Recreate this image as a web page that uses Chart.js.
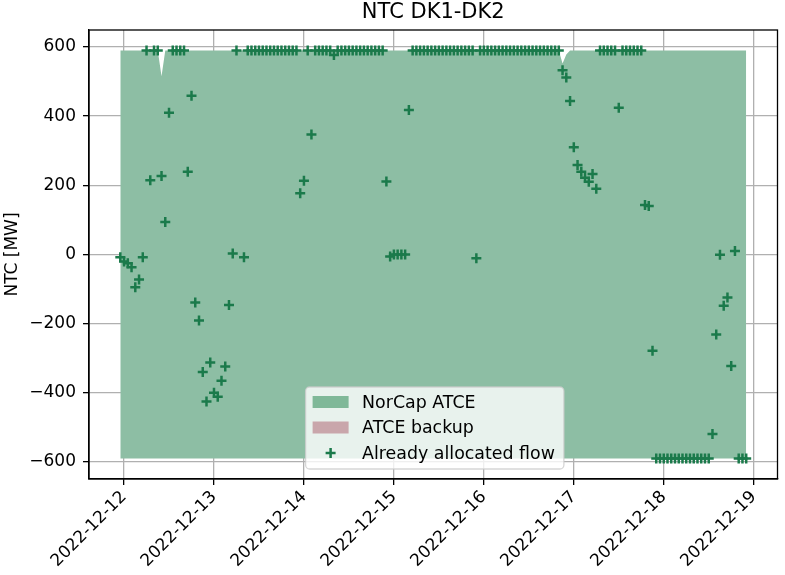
<!DOCTYPE html>
<html><head><meta charset="utf-8">
<script src="https://cdn.jsdelivr.net/npm/chart.js@4.4.1/dist/chart.umd.min.js"></script>
<style>html,body{margin:0;padding:0;background:#fff}#wrap{width:785px;height:575px;position:relative}canvas{display:block}</style>
</head><body><div id="wrap"><canvas id="c" width="785" height="575" style="width:785px;height:575px"></canvas></div>
<script>
// Hours since 2022-12-12 00:00
const hours = [
  -1,
  0,1,2,3,4,5,6,7,8,9,10,11,12,13,14,15,16,17,18,19,20,21,22,23,
  24,25,26,27,28,29,30,31,32,33,34,35,36,37,38,39,40,41,42,43,44,45,46,47,
  48,49,50,51,52,53,54,55,56,57,58,59,60,61,62,63,64,65,66,67,68,69,70,71,
  72,73,74,75,76,77,78,79,80,81,82,83,84,85,86,87,88,89,90,91,92,93,94,95,
  96,97,98,99,100,101,102,103,104,105,106,107,108,109,110,111,112,113,114,115,116,117,118,119,
  120,121,122,123,124,125,126,127,128,129,130,131,132,133,134,135,136,137,138,139,140,141,142,143,
  144,145,146,147,148,149,150,151,152,153,154,155,156,157,158,159,160,161,162,163,164,165,166
];
// NorCap ATCE upper bound (MW)
const atceMax = [
  590,
  590,590,590,590,590,590,590,590,590,590,515,590,590,590,590,590,590,590,590,590,590,590,590,590,
  590,590,590,590,590,590,590,590,590,590,590,590,590,590,590,590,590,590,590,590,590,590,590,590,
  590,590,590,590,590,590,590,590,590,590,590,590,590,590,590,590,590,590,590,590,590,590,590,590,
  590,590,590,590,590,590,590,590,590,590,590,590,590,590,590,590,590,590,590,590,590,590,590,590,
  590,590,590,590,590,590,590,590,590,590,590,590,590,590,590,590,590,590,590,590,590,552,578,590,
  590,590,590,590,590,590,590,590,590,590,590,590,590,590,590,590,590,590,590,590,590,590,590,590,
  590,590,590,590,590,590,590,590,590,590,590,590,590,590,590,590,590,590,590,590,590,590,590
];
// NorCap ATCE lower bound (MW)
const atceMin = [
  -590,
  -590,-590,-590,-590,-590,-590,-590,-590,-590,-590,-590,-590,-590,-590,-590,-590,-590,-590,-590,-590,-590,-590,-590,-590,
  -590,-590,-590,-590,-590,-590,-590,-590,-590,-590,-590,-590,-590,-590,-590,-590,-590,-590,-590,-590,-590,-590,-590,-590,
  -590,-590,-590,-590,-590,-590,-590,-590,-590,-590,-590,-590,-590,-590,-590,-590,-590,-590,-590,-590,-590,-590,-590,-590,
  -590,-590,-590,-590,-590,-590,-590,-590,-590,-590,-590,-590,-590,-590,-590,-590,-590,-590,-590,-590,-590,-590,-590,-590,
  -590,-590,-590,-590,-590,-590,-590,-590,-590,-590,-590,-590,-590,-590,-590,-590,-590,-590,-590,-590,-590,-590,-590,-590,
  -590,-590,-590,-590,-590,-590,-590,-590,-590,-590,-590,-590,-590,-590,-590,-590,-590,-590,-590,-590,-590,-590,-590,-590,
  -590,-590,-590,-590,-590,-590,-590,-590,-590,-590,-590,-590,-590,-590,-590,-590,-590,-590,-590,-590,-590,-590,-590
];
// ATCE backup (no data in this period)
const backupMax = [];
// Already allocated flow (MW)
const allocatedFlow = [
  -8,
  -20,-25,-37,-95,-72,-8,590,215,590,590,227,94,410,590,590,590,590,239,459,-139,-191,-340,-425,-312,
  -400,-411,-365,-324,-146,3,590,null,-8,590,590,590,590,590,590,590,590,590,590,590,590,590,590,177,
  213,590,347,590,590,590,590,590,577,590,590,590,590,590,590,590,590,590,590,590,590,590,211,-6,
  0,0,0,0,418,590,590,590,590,590,590,590,590,590,590,590,590,590,590,590,590,590,-11,590,
  590,590,590,590,590,590,590,590,590,590,590,590,590,590,590,590,590,590,590,590,590,533,512,444,
  310,259,239,222,210,233,190,590,590,590,590,590,424,590,590,590,590,590,590,143,140,-278,-590,-590,
  -590,-590,-590,-590,-590,-590,-590,-590,-590,-590,-590,-590,-590,-519,-231,-1,-148,-124,-322,10,-590,-590,-590
];
const xTickValues = [0,24,48,72,96,120,144,168];
const xTickLabels = ['2022-12-12','2022-12-13','2022-12-14','2022-12-15','2022-12-16','2022-12-17','2022-12-18','2022-12-19'];
const yTickValues = [-600,-400,-200,0,200,400,600];
const yTickLabels = ['\u2212600','\u2212400','\u2212200','0','200','400','600'];

const FONT = 'DejaVu Sans';
const FILL = 'rgb(141,190,164)';
const FILL_LEG = 'rgb(127,184,152)';
const BACK_LEG = 'rgb(201,166,171)';
const MARK = '#1b7a4b';

const pts = (ys) => hours.map((h, i) => ({x: h, y: ys[i]}));

const framePlugin = {
  id: 'frame',
  afterDraw(chart) {
    const {ctx, chartArea: a} = chart;
    ctx.save();
    ctx.strokeStyle = '#000';
    ctx.lineWidth = 1.3;
    ctx.strokeRect(a.left, a.top, a.right - a.left, a.bottom - a.top);
    ctx.restore();
  }
};

const legendPlugin = {
  id: 'mplLegend',
  afterDraw(chart) {
    const {ctx, chartArea: a} = chart;
    const ds = chart.data.datasets;
    const items = [
      {label: ds[1].label, kind: 'patch', color: FILL_LEG},
      {label: ds[3].label, kind: 'patch', color: BACK_LEG},
      {label: ds[0].label, kind: 'cross', color: MARK}
    ];
    ctx.save();
    ctx.font = '17.4px "' + FONT + '"';
    let tw = 0;
    items.forEach(it => { tw = Math.max(tw, ctx.measureText(it.label).width); });
    const padL = 7, handleW = 36, gap = 13.5, padR = 9;
    const w = padL + handleW + gap + tw + padR;
    const h = 82;
    const cx = (a.left + a.right) / 2 + 1.5;
    const x0 = cx - w / 2;
    const y0 = a.bottom - 10 - h;
    const r = 4;
    ctx.beginPath();
    ctx.moveTo(x0 + r, y0);
    ctx.lineTo(x0 + w - r, y0);
    ctx.arcTo(x0 + w, y0, x0 + w, y0 + r, r);
    ctx.lineTo(x0 + w, y0 + h - r);
    ctx.arcTo(x0 + w, y0 + h, x0 + w - r, y0 + h, r);
    ctx.lineTo(x0 + r, y0 + h);
    ctx.arcTo(x0, y0 + h, x0, y0 + h - r, r);
    ctx.lineTo(x0, y0 + r);
    ctx.arcTo(x0, y0, x0 + r, y0, r);
    ctx.closePath();
    ctx.fillStyle = 'rgba(255,255,255,0.8)';
    ctx.fill();
    ctx.strokeStyle = 'rgba(204,204,204,0.8)';
    ctx.lineWidth = 1.3;
    ctx.stroke();
    const rowY = [y0 + 15, y0 + 40.5, y0 + 66];
    items.forEach((it, i) => {
      const yc = rowY[i];
      if (it.kind === 'patch') {
        ctx.fillStyle = it.color;
        ctx.fillRect(x0 + padL, yc - 6, handleW, 12);
      } else {
        ctx.strokeStyle = it.color;
        ctx.lineWidth = 2.5;
        const mx = x0 + padL + handleW / 2;
        ctx.beginPath();
        ctx.moveTo(mx - 5, yc); ctx.lineTo(mx + 5, yc);
        ctx.moveTo(mx, yc - 5); ctx.lineTo(mx, yc + 5);
        ctx.stroke();
      }
      ctx.fillStyle = '#000';
      ctx.textBaseline = 'middle';
      ctx.textAlign = 'left';
      ctx.fillText(it.label, x0 + padL + handleW + gap, yc + 1);
    });
    ctx.restore();
  }
};

new Chart(document.getElementById('c'), {
  type: 'line',
  data: {
    datasets: [
      {
        label: 'Already allocated flow',
        data: pts(allocatedFlow),
        showLine: false,
        pointStyle: 'cross',
        pointRadius: 5,
        pointBorderWidth: 2.5,
        pointBorderColor: MARK,
        pointBackgroundColor: MARK,
        order: 0
      },
      {
        label: 'NorCap ATCE',
        data: pts(atceMax),
        borderWidth: 0,
        borderColor: 'rgba(0,0,0,0)',
        pointRadius: 0,
        backgroundColor: FILL,
        fill: {target: 2},
        tension: 0,
        order: 2
      },
      {
        label: 'NorCap ATCE min',
        data: pts(atceMin),
        borderWidth: 0,
        borderColor: 'rgba(0,0,0,0)',
        pointRadius: 0,
        fill: false,
        order: 3
      },
      {
        label: 'ATCE backup',
        data: backupMax,
        borderWidth: 0,
        pointRadius: 0,
        backgroundColor: BACK_LEG,
        fill: false,
        order: 1
      }
    ]
  },
  options: {
    responsive: false,
    animation: false,
    devicePixelRatio: 1,
    layout: {padding: {left: 0, right: 3, top: 0, bottom: 0}},
    plugins: {
      legend: {display: false},
      tooltip: {enabled: false},
      title: {
        display: true,
        text: 'NTC DK1-DK2',
        fullSize: false,
        color: '#000',
        font: {family: FONT, size: 21, weight: 'normal'},
        padding: {top: 0, bottom: 4.8}
      }
    },
    scales: {
      x: {
        type: 'linear',
        min: -9.35,
        max: 174.35,
        z: 1,
        afterBuildTicks: (s) => { s.ticks = xTickValues.map(v => ({value: v})); },
        afterFit: (s) => { s.height = 96; },
        ticks: {
          autoSkip: false,
          minRotation: 45,
          maxRotation: 45,
          padding: 2,
          color: '#000',
          font: {family: FONT, size: 17},
          callback: (v) => { const i = xTickValues.indexOf(v); return i >= 0 ? xTickLabels[i] : ''; }
        },
        grid: {color: '#b0b0b0', lineWidth: 1.3, tickColor: '#000', tickLength: 6, tickWidth: 1.3},
        border: {display: true, color: '#000', width: 1.3}
      },
      y: {
        type: 'linear',
        min: -649,
        max: 649,
        z: 1,
        afterBuildTicks: (s) => { s.ticks = yTickValues.map(v => ({value: v})); },
        afterFit: (s) => { s.width = 89; },
        title: {
          display: true,
          text: 'NTC [MW]',
          color: '#000',
          font: {family: FONT, size: 17},
          padding: {top: 2, bottom: 0}
        },
        ticks: {
          padding: 7,
          color: '#000',
          font: {family: FONT, size: 17},
          callback: (v) => { const i = yTickValues.indexOf(v); return i >= 0 ? yTickLabels[i] : ''; }
        },
        grid: {color: '#b0b0b0', lineWidth: 1.3, tickColor: '#000', tickLength: 6, tickWidth: 1.3},
        border: {display: true, color: '#000', width: 1.3}
      }
    }
  },
  plugins: [framePlugin, legendPlugin]
});
</script>
</body></html>
